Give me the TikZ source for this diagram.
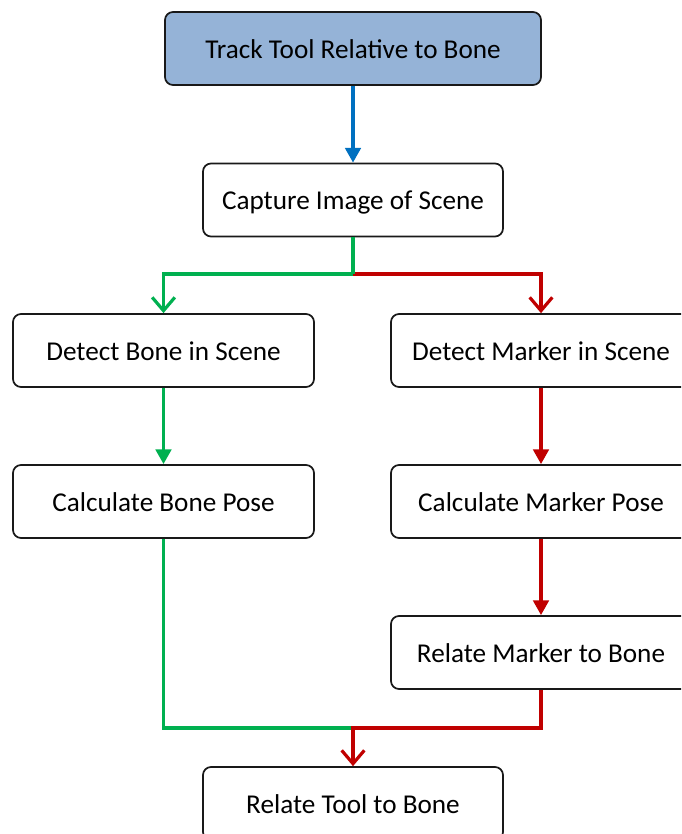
\documentclass[tikz,border=0pt]{standalone}
\usepackage{fontspec}
\setmainfont{Carlito}
\usetikzlibrary{arrows.meta}
\definecolor{topfill}{HTML}{95B3D7}
\definecolor{cblue}{HTML}{0070C0}
\definecolor{cgreen}{HTML}{00B050}
\definecolor{cred}{HTML}{C00000}
\begin{document}
\begin{tikzpicture}[x=0.75pt,y=-0.75pt,
  box/.style={draw=black!90, line width=1.3pt, rounded corners=6pt,
    minimum width=225pt, minimum height=54.75pt, inner sep=0pt,
    text height=14.5pt, text depth=0pt,
    font=\fontsize{20.4}{24}\selectfont, fill=white},
  conn/.style={line width=2.6pt},
  filltip/.style={-{Triangle[length=11pt,width=11.5pt]}},
  opentip/.style={-{Straight Barb[length=10pt,width=17pt,line width=2.4pt]}}]
\useasboundingbox (0,0) rectangle (681,834);
\clip (0,0) rectangle (681,834);
\node[box, fill=topfill, minimum width=282pt] (top) at (353,48.5) {Track Tool Relative to Bone};
\node[box] (cap) at (353,200) {Capture Image of Scene};
\node[box, minimum width=225.75pt] (db) at (163.5,350.5) {Detect Bone in Scene};
\node[box] (dm) at (541,350.5) {Detect Marker in Scene};
\node[box, minimum width=225.75pt] (cb) at (163.5,501.5) {Calculate Bone Pose};
\node[box] (cm) at (541,501.5) {Calculate Marker Pose};
\node[box] (rm) at (541,652.5) {Relate Marker to Bone};
\node[box] (rt) at (353,803.5) {Relate Tool to Bone};
\coordinate (split) at (353,274);
\coordinate (join) at (353,728);
\draw[conn, cblue, filltip] (top) -- (cap);
\draw[conn, cred, opentip] (split) -| (dm.north);
\draw[conn, cgreen, opentip] (split) -| (db.north);
\draw[conn, cgreen] (cap.south) -- (split);
\draw[conn, cgreen, filltip] (db) -- (cb);
\draw[conn, cred, filltip] (dm) -- (cm);
\draw[conn, cred, filltip] (cm) -- (rm);
\draw[conn, cgreen] (cb.south) |- (join);
\draw[conn, cred, opentip] (rm.south) |- (join) -- (rt.north);
\end{tikzpicture}
\end{document}
